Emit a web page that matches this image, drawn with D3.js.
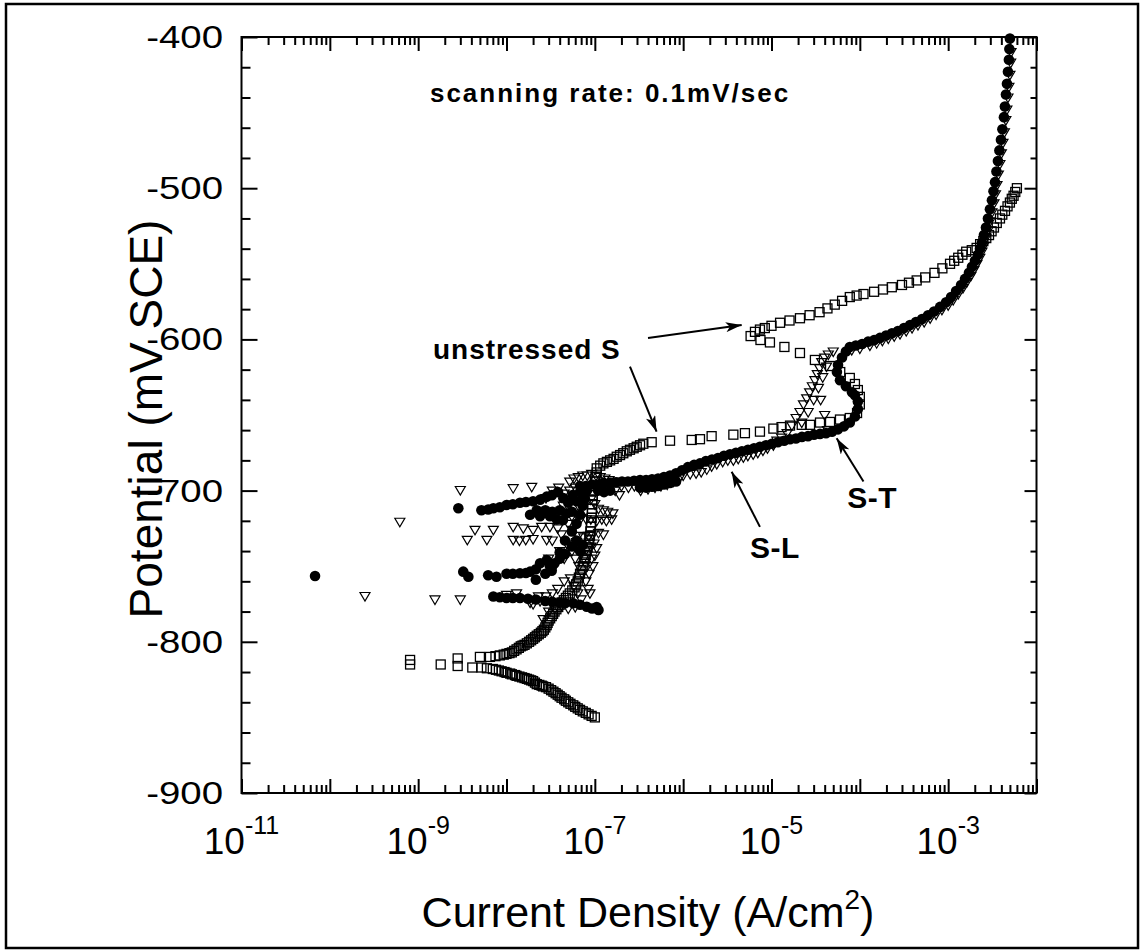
<!DOCTYPE html>
<html><head><meta charset="utf-8">
<script src="https://cdn.jsdelivr.net/npm/d3@7"></script>
<style>
body{margin:0;background:#fff;}
text{font-family:"Liberation Sans", Arial, Helvetica, sans-serif;fill:#000;}
</style>
</head><body>
<svg id="c" width="1143" height="951"></svg>
<script>
// ---------- DATA: [current density (A/cm2), potential (mV SCE)] ----------
const unstressedS = [
[1.0e-7,-850],[9.2e-8,-849],[8.5e-8,-848],[7.9e-8,-847],[7.3e-8,-846],[6.8e-8,-845],[6.4e-8,-844],[6.0e-8,-843],[5.7e-8,-842],[5.3e-8,-841],[5.0e-8,-840],[4.7e-8,-839],[4.5e-8,-838],[4.2e-8,-837],[4.0e-8,-836],[3.8e-8,-835],[3.6e-8,-834],[3.4e-8,-833],[3.2e-8,-832],[3.0e-8,-831],[2.8e-8,-830],[2.6e-8,-829.5],[2.5e-8,-829],[2.35e-8,-828.5],[2.2e-8,-828],[2.1e-8,-827],[2.0e-8,-826],[1.9e-8,-825.5],[1.8e-8,-825],[1.7e-8,-824.5],[1.6e-8,-824],[1.5e-8,-823.5],[1.4e-8,-823],[1.3e-8,-822.5],[1.25e-8,-822],[1.15e-8,-821.5],[1.1e-8,-821],[1.0e-8,-820.5],[9.5e-9,-820],[8.8e-9,-819.5],[8.2e-9,-819],[7.6e-9,-818.5],[7.0e-9,-818],[6.0e-9,-817.5],[5.2e-9,-817],[4.1e-9,-817],[2.8e-9,-816],[1.8e-9,-815],[8.1e-10,-815],[8.1e-10,-812],[2.8e-9,-811],[5.0e-9,-810],
[6.5e-9,-810],[7.5e-9,-809.5],[8.4e-9,-809],[9.3e-9,-808.5],[1.0e-8,-808],[1.08e-8,-807.5],[1.15e-8,-807],[1.22e-8,-806],[1.3e-8,-805],[1.38e-8,-804],[1.45e-8,-803],[1.52e-8,-802.5],[1.6e-8,-802],[1.7e-8,-801],[1.8e-8,-800],[1.9e-8,-799],[2.0e-8,-798],[2.1e-8,-797],[2.2e-8,-796],[2.32e-8,-795],[2.45e-8,-794],[2.55e-8,-793],[2.65e-8,-792],[2.75e-8,-790.5],[2.85e-8,-789],[2.92e-8,-787.5],[3.0e-8,-786],[3.12e-8,-784.5],[3.25e-8,-783],[3.37e-8,-781.5],[3.5e-8,-780],[3.67e-8,-778.5],[3.85e-8,-777],[4.0e-8,-775.5],[4.2e-8,-774],[4.45e-8,-772.5],[4.7e-8,-771],[4.95e-8,-769.5],[5.2e-8,-768],[5.55e-8,-766],[5.9e-8,-764],[6.15e-8,-762],[6.4e-8,-760],[6.6e-8,-757.5],[6.8e-8,-755],[7.05e-8,-752.5],[7.3e-8,-750],[7.5e-8,-747.5],[7.7e-8,-745],[7.9e-8,-742.5],[8.1e-8,-740],[8.3e-8,-737.5],[8.5e-8,-735],[8.65e-8,-732.5],[8.8e-8,-730],[8.9e-8,-727],[9.0e-8,-724],[9.1e-8,-721],[9.2e-8,-718],[9.25e-8,-715],[9.3e-8,-712],[9.35e-8,-709],[9.4e-8,-706],[9.5e-8,-703],[9.6e-8,-700],[9.8e-8,-697],[1.0e-7,-694],[1.02e-7,-691],[1.05e-7,-688],[1.05e-7,-685.3],[1.15e-7,-683.5],[1.25e-7,-682],[1.37e-7,-681],[1.49e-7,-680],[1.63e-7,-679],[1.77e-7,-677.6],[1.93e-7,-676.5],[2.1e-7,-675.3],[2.3e-7,-674],[2.5e-7,-673],[2.75e-7,-672],[2.98e-7,-671],[3.25e-7,-670],[3.54e-7,-669],[4.4e-7,-668],[7.1e-7,-667],[1.25e-6,-666.5],[1.55e-6,-666],[2.1e-6,-664],[3.7e-6,-663],[5.0e-6,-662],[7.4e-6,-661],[1.05e-5,-659],[1.3e-5,-658],[1.62e-5,-657],[2.2e-5,-656.5],[2.73e-5,-656.5],[3.54e-5,-655],[4.6e-5,-654.6],[5.96e-5,-653],[7.7e-5,-652],[9.3e-5,-648.7],[1.0e-4,-643],[1.0e-4,-638],[9.5e-5,-633.5],[8.8e-5,-629.5],[7.7e-5,-625.5],[6.0e-5,-621.6],[4.6e-5,-617.6],[3.1e-5,-613.6],[2.1e-5,-609],[1.4e-5,-605],[9.6e-6,-602],[7.5e-6,-600.4],[5.8e-6,-597.8],[6.5e-6,-595],[7.4e-6,-593.5],[8.4e-6,-592.5],[1.0e-5,-591],[1.25e-5,-589],[1.6e-5,-587.5],[2.1e-5,-586],[2.7e-5,-584],[3.5e-5,-582],[4.3e-5,-579.5],[5.2e-5,-577],[6.3e-5,-574.5],[7.7e-5,-572],[9.2e-5,-571],[1.1e-4,-570],[1.45e-4,-568.5],[1.83e-4,-567],[2.3e-4,-565.5],[3.0e-4,-564],[3.6e-4,-562.5],[4.4e-4,-561],[5.5e-4,-559],[7.0e-4,-556],[8.6e-4,-553],[1.05e-3,-550],[1.17e-3,-548],[1.3e-3,-546],[1.45e-3,-544],[1.6e-3,-542],[1.85e-3,-541],[2.1e-3,-539.5],[2.3e-3,-537],[2.5e-3,-535],[2.7e-3,-533],[2.9e-3,-531],[3.1e-3,-528.5],[3.3e-3,-526],[3.55e-3,-523],[3.86e-3,-520],[4.1e-3,-517.5],[4.4e-3,-515],[4.7e-3,-512],[5.0e-3,-509.5],[5.25e-3,-507],[5.5e-3,-505],[5.75e-3,-502.5],[6.0e-3,-500]
];

const stressedST = [
[6.8e-11,-756.5],[2.85e-9,-711.7],[3.24e-9,-753.6],[3.7e-9,-757],
[5.2e-9,-713],[6.2e-9,-712.5],[7.1e-9,-711.7],[8.4e-9,-711],[1.0e-8,-709.5],[1.18e-8,-709],[1.42e-8,-708],[1.66e-8,-707.5],[2.0e-8,-707],[2.4e-8,-706],[2.85e-8,-704],[3.27e-8,-703],[3.83e-8,-701],
[1.85e-8,-716],[2.2e-8,-713],[2.4e-8,-717],[2.75e-8,-713],[3.1e-8,-717],[3.3e-8,-714],[3.7e-8,-719],[4.0e-8,-713],[4.36e-8,-719.5],[4.8e-8,-715],[5.5e-8,-714],
[4.4e-8,-705],[5.0e-8,-708],[5.6e-8,-703],[6.2e-8,-707],[6.8e-8,-701],[7.4e-8,-704],
[6.2e-9,-756],[7.7e-9,-757],[1.0e-8,-755],[1.18e-8,-755],[1.42e-8,-754.7],[1.66e-8,-754.5],[1.85e-8,-753.6],[2.15e-8,-752],[2.15e-8,-759],[2.4e-8,-748],[2.75e-8,-755],[2.85e-8,-746],[3.1e-8,-750],[3.25e-8,-753],[3.5e-8,-748],[4.0e-8,-745],[4.6e-8,-742],[4.0e-8,-741],[4.6e-8,-733],[5.5e-8,-727],[6.2e-8,-722],[5.5e-8,-737],[6.2e-8,-733],[6.8e-8,-740],[7.3e-8,-736],[6.8e-8,-716],[7.3e-8,-710],[7.7e-8,-705],[8.1e-8,-700],
[7.1e-9,-770],[8.4e-9,-770.5],[1.0e-8,-771],[1.18e-8,-771],[1.42e-8,-771],[1.75e-8,-771.5],[2.15e-8,-772],[2.75e-8,-773],[3.3e-8,-773.5],[4.0e-8,-774],[4.6e-8,-774.5],[5.7e-8,-774.5],[6.8e-8,-775.5],[8.1e-8,-776.8],[9.3e-8,-778],[1.1e-7,-779],[1.05e-7,-777],
[6.8e-8,-697],[7.9e-8,-697],[9.3e-8,-696],[1.09e-7,-696],[1.27e-7,-695],[1.49e-7,-695],[1.74e-7,-694.5],[2.03e-7,-694],[2.37e-7,-694],[2.78e-7,-693.5],[3.25e-7,-693],[3.8e-7,-693],[4.44e-7,-692.5],[5.2e-7,-692],[6.07e-7,-691],[7.1e-7,-690],[8.3e-7,-688.5],[9.7e-7,-686.5],[1.13e-6,-684.5],[1.33e-6,-683],[1.55e-6,-682],[1.81e-6,-680.5],[2.12e-6,-679.5],[2.48e-6,-678.5],[2.9e-6,-677],[3.39e-6,-676],[3.96e-6,-675],[4.63e-6,-674],[5.42e-6,-673],[6.34e-6,-672],[7.4e-6,-671],[8.66e-6,-670],[1.01e-5,-669],[1.18e-5,-668],[1.39e-5,-667],[1.62e-5,-666],[1.89e-5,-665.5],[2.21e-5,-664.5],[2.59e-5,-664],[3.03e-5,-663],[3.54e-5,-662.5],[4.14e-5,-662],[4.84e-5,-661],[5.66e-5,-659.5],[6.62e-5,-657.5],[7.7e-5,-655],[8.8e-5,-651],[9.5e-5,-646],[9.5e-5,-641],[8.8e-5,-637],[8.15e-5,-635],[6.96e-5,-631],[5.96e-5,-627],[5.5e-5,-621.6],[5.66e-5,-617],[6.28e-5,-612],[6.96e-5,-608],
[1.09e-7,-700],[1.27e-7,-701],[1.49e-7,-700],[3.25e-7,-698],[3.8e-7,-698],[4.44e-7,-697.5],[5.2e-7,-697],[6.07e-7,-696],[7.1e-7,-695],[8.3e-7,-694],
[7.7e-5,-605],[9.0e-5,-604],[1.06e-4,-603],[1.24e-4,-601.5],[1.45e-4,-600.5],[1.69e-4,-599],[1.98e-4,-597.5],[2.31e-4,-596],[2.7e-4,-594.5],[3.16e-4,-592.5],[3.7e-4,-590.5],[4.32e-4,-588.5],[5.06e-4,-586.5],[5.92e-4,-584],[6.92e-4,-581.5],[8.1e-4,-578.5],[9.47e-4,-575.5],[1.08e-3,-572],[1.23e-3,-568],[1.4e-3,-564],[1.55e-3,-560],[1.72e-3,-556],[1.86e-3,-552],[2.01e-3,-548],[2.17e-3,-544],[2.29e-3,-540],[2.41e-3,-536],[2.54e-3,-531],[2.68e-3,-526],[2.82e-3,-520],[2.97e-3,-514],[3.13e-3,-508],[3.26e-3,-502],[3.39e-3,-496],[3.52e-3,-489],[3.66e-3,-482],[3.8e-3,-475],[3.96e-3,-468],[4.11e-3,-461],[4.28e-3,-453],[4.39e-3,-446],[4.51e-3,-438],[4.63e-3,-431],[4.75e-3,-423],[4.87e-3,-415],[4.93e-3,-408],[5.0e-3,-401]
];

const stressedSL = [
[2.5e-10,-769.7],[6.2e-10,-720.6],[1.55e-9,-772],[3.0e-9,-772],[3.0e-9,-699.6],[1.19e-8,-698.4],[1.93e-8,-697.5],
[4.4e-9,-726],[7.1e-9,-726],[3.6e-9,-732.6],[6.0e-9,-732.6],[1.19e-8,-724],[1.55e-8,-725],[2.0e-8,-726],[1.19e-8,-732.6],[1.4e-8,-733],[1.65e-8,-732.6],[2.0e-8,-732],[2.5e-8,-724],[2.85e-8,-732.6],[3.1e-8,-724],[3.3e-8,-733],
[1.0e-8,-769],[1.3e-8,-768],[1.85e-8,-774],[2.3e-8,-770],
[2.8e-8,-705],[3.3e-8,-700],[3.9e-8,-698],[4.5e-8,-702],[5.2e-8,-700],[5.9e-8,-705],[6.5e-8,-710],[4.4e-8,-710],[3.8e-8,-725],[4.2e-8,-729],[4.8e-8,-735],[5.5e-8,-740],[6.0e-8,-745],[6.6e-8,-750],[7.2e-8,-755],[7.9e-8,-760],[8.4e-8,-765],[8.8e-8,-768],[5.3e-8,-758],[5.8e-8,-763],[6.4e-8,-768],[7.0e-8,-772],[4.5e-8,-760],[3.8e-8,-765],[3.3e-8,-768],[2.8e-8,-770],[2.4e-8,-773],[2.0e-8,-775],[6.0e-8,-777],[5.0e-8,-778],[4.2e-8,-776],[7.5e-8,-745],[8.2e-8,-750],[8.6e-8,-755],[9.2e-8,-745],[3.0e-8,-745],[3.5e-8,-750],[4.0e-8,-740],[4.5e-8,-745],[5.0e-8,-722],[5.6e-8,-726],[6.2e-8,-734],[7.0e-8,-742],[9.5e-8,-750],[1.0e-7,-743],[9.8e-8,-735],
[3.0e-8,-780],[3.5e-8,-778],[2.6e-8,-785],
[5.5e-8,-717],[6.2e-8,-716],[7.0e-8,-718],[8.0e-8,-719],[9.0e-8,-719],[1.05e-7,-720],[1.2e-7,-719],[1.35e-7,-720],[1.55e-7,-719],
[6.5e-8,-730],[7.5e-8,-731],[8.5e-8,-730],[9.5e-8,-729],[1.1e-7,-728],[1.25e-7,-729],
[7.0e-8,-738],[8.0e-8,-739],[9.0e-8,-737],[1.05e-7,-738],
[5.2e-8,-694],[5.8e-8,-692],[6.5e-8,-691],[7.3e-8,-690],[8.2e-8,-690],[9.2e-8,-689],[1.03e-7,-690],[1.15e-7,-691],[1.3e-7,-692],[1.45e-7,-693],[1.6e-7,-694],[6.0e-8,-698],[7.0e-8,-700],[8.0e-8,-703],[9.0e-8,-706],[1.0e-7,-709],[1.1e-7,-712],[1.25e-7,-713],[1.4e-7,-714],[1.6e-7,-715],
[2.0e-7,-697],[2.4e-7,-698],[2.8e-7,-697],[3.3e-7,-700],[4.0e-7,-699],[4.8e-7,-698],[5.6e-7,-697],[6.6e-7,-696],[7.8e-7,-694],[9.0e-7,-692],[1.7e-7,-700],[1.9e-7,-703],
[1.0e-6,-690],[1.2e-6,-689],[1.4e-6,-688.6],[1.6e-6,-687.7],[1.85e-6,-686],[2.1e-6,-684],[2.4e-6,-682.5],[2.8e-6,-681],[3.2e-6,-680],[3.7e-6,-680],[4.2e-6,-679],[4.8e-6,-678],[5.4e-6,-677],[6.2e-6,-676],[7.0e-6,-675],[8.0e-6,-673.5],[9.0e-6,-672],[1.05e-5,-670],[1.15e-5,-667],
[1.3e-5,-665],[1.5e-5,-662],[1.7e-5,-657],[1.9e-5,-652],[2.1e-5,-648],[2.3e-5,-643],[2.5e-5,-639],[2.7e-5,-635],[2.9e-5,-631],[3.1e-5,-627],[3.3e-5,-623],[3.5e-5,-619],[3.7e-5,-615],[4.0e-5,-612],[4.4e-5,-610],[5.0e-5,-608],[2.2e-5,-655],[2.6e-5,-648],[3.0e-5,-640],[3.4e-5,-632],[3.8e-5,-625],[4.2e-5,-618],[3.6e-5,-640],[4.0e-5,-650],[4.3e-5,-660],
[8.1e-5,-607],[1.0e-4,-606],[1.3e-4,-604],[1.55e-4,-602.5],[1.8e-4,-601],[2.1e-4,-599.5],[2.45e-4,-598],[2.85e-4,-596.5],[3.35e-4,-594.5],[3.9e-4,-592.5],[4.55e-4,-590.5],[5.35e-4,-588.5],[6.25e-4,-586],[7.3e-4,-583.5],[8.5e-4,-580.5],[1.0e-3,-577.5],[1.14e-3,-574],[1.3e-3,-570],[1.47e-3,-566],[1.63e-3,-562],[1.81e-3,-558],[1.96e-3,-554],[2.12e-3,-550],[2.28e-3,-546],[2.41e-3,-542],[2.54e-3,-538],[2.67e-3,-533],[2.82e-3,-528],[2.97e-3,-522],[3.13e-3,-516],[3.3e-3,-510],[3.43e-3,-504],[3.57e-3,-498],[3.7e-3,-491],[3.85e-3,-484],[4.0e-3,-477],[4.17e-3,-470],[4.33e-3,-463],[4.5e-3,-455],[4.62e-3,-448],[4.75e-3,-440],[4.87e-3,-433],[5.0e-3,-425],[5.1e-3,-417],[5.15e-3,-410]
];

// tick labels
const xLabelExponents = [-11, -9, -7, -5, -3];
const yTickValues = [-400, -500, -600, -700, -800, -900];

// annotations [current, potential]
const annotations = [
  {text: "scanning rate: 0.1mV/sec", at: [1.36e-9, -443], size: 26, ls: 2},
  {text: "unstressed S", at: [1.47e-9, -613], size: 28, ls: 1},
  {text: "S-L", at: [5.7e-6, -744.6], size: 30, ls: 0.5},
  {text: "S-T", at: [7.2e-5, -711.5], size: 30, ls: 0.5}
];
const arrows = [
  {from: [4.0e-7, -599], to: [4.6e-6, -590.5]},
  {from: [2.5e-7, -618], to: [5.0e-7, -661]},
  {from: [7.4e-6, -724], to: [3.54e-6, -687.5]},
  {from: [1.1e-4, -694], to: [5.46e-5, -665.4]}
];

// ---------- CHART ----------
const svg = d3.select("#c");
const L = 241.5, R = 1036.5, T = 37, B = 793;
const x = d3.scaleLog().domain([1e-11, 1e-2]).range([L, R]);
const y = d3.scaleLinear().domain([-900, -400]).range([B, T]);

svg.append("rect").attr("x", 6).attr("y", 4).attr("width", 1132).attr("height", 944)
  .attr("fill", "none").attr("stroke", "#000").attr("stroke-width", 2.5);

const decades = d3.range(-11, -1).map(e => Math.pow(10, e));
const minors = [];
d3.range(-11, -2).forEach(e => { for (let m = 2; m <= 9; m++) minors.push(m * Math.pow(10, e)); });
const yMinor = d3.range(-900, -399, 20).filter(v => v % 100 !== 0);

function styleAxis(g) {
  g.select(".domain").remove();
  g.selectAll(".tick line").attr("stroke", "#000").attr("stroke-width", 2);
  g.selectAll(".tick text").remove();
}
svg.append("g").attr("transform", `translate(0,${B})`).call(d3.axisBottom(x).tickValues(decades).tickSize(-14)).call(styleAxis);
svg.append("g").attr("transform", `translate(0,${B})`).call(d3.axisBottom(x).tickValues(minors).tickSize(-8)).call(styleAxis);
svg.append("g").attr("transform", `translate(0,${T})`).call(d3.axisTop(x).tickValues(decades).tickSize(-14)).call(styleAxis);
svg.append("g").attr("transform", `translate(0,${T})`).call(d3.axisTop(x).tickValues(minors).tickSize(-8)).call(styleAxis);
svg.append("g").attr("transform", `translate(${L},0)`).call(d3.axisLeft(y).tickValues(yTickValues).tickSize(-16)).call(styleAxis);
svg.append("g").attr("transform", `translate(${L},0)`).call(d3.axisLeft(y).tickValues(yMinor).tickSize(-9)).call(styleAxis);
svg.append("g").attr("transform", `translate(${R},0)`).call(d3.axisRight(y).tickValues(yTickValues).tickSize(-12)).call(styleAxis);
svg.append("g").attr("transform", `translate(${R},0)`).call(d3.axisRight(y).tickValues(yMinor).tickSize(-6)).call(styleAxis);

svg.append("rect").attr("x", L).attr("y", T).attr("width", R - L).attr("height", B - T)
  .attr("fill", "none").attr("stroke", "#000").attr("stroke-width", 2);

// y tick labels (slightly wide lettering, as in the reference)
svg.append("g").selectAll("text").data(yTickValues).join("text")
  .attr("transform", d => `translate(223,${y(d) + 11}) scale(1.2,1)`).attr("text-anchor", "end")
  .attr("font-size", 32).text(d => String(d));

// x tick labels
const xl = svg.append("g").selectAll("text").data(xLabelExponents).join("text")
  .attr("x", d => x(Math.pow(10, d))).attr("y", 854).attr("text-anchor", "middle").attr("font-size", 37);
xl.append("tspan").text("10");
xl.append("tspan").attr("dy", -20).attr("font-size", 25).text(d => String(d));

// axis titles
const xt = svg.append("text").attr("x", 648).attr("y", 927).attr("text-anchor", "middle").attr("font-size", 43);
xt.append("tspan").text("Current Density (A/cm");
xt.append("tspan").attr("dy", -18).attr("font-size", 28).text("2");
xt.append("tspan").attr("dy", 18).text(")");
svg.append("text").attr("transform", `translate(162,${(T + B) / 2 + 4}) rotate(-90)`)
  .attr("text-anchor", "middle").attr("font-size", 46).text("Potential (mV SCE)");

// markers
const plot = svg.append("g");
plot.selectAll("rect.sq").data(unstressedS).join("rect").attr("class", "sq")
  .attr("x", d => x(d[0]) - 4.5).attr("y", d => y(d[1]) - 4.5).attr("width", 9).attr("height", 9)
  .attr("fill", "none").attr("stroke", "#000").attr("stroke-width", 1.3);
plot.selectAll("path.tri").data(stressedSL).join("path").attr("class", "tri")
  .attr("transform", d => `translate(${x(d[0])},${y(d[1])})`)
  .attr("d", "M-5,-3.5L5,-3.5L0,5Z")
  .attr("fill", "none").attr("stroke", "#000").attr("stroke-width", 1.2);
plot.selectAll("circle.ci").data(stressedST).join("circle").attr("class", "ci")
  .attr("cx", d => x(d[0])).attr("cy", d => y(d[1])).attr("r", 5.3).attr("fill", "#000");

// annotations
svg.append("defs").append("marker").attr("id", "ah").attr("viewBox", "0 0 16 10")
  .attr("refX", 16).attr("refY", 5).attr("markerWidth", 16).attr("markerHeight", 10)
  .attr("markerUnits", "userSpaceOnUse").attr("orient", "auto")
  .append("path").attr("d", "M0,0L16,5L0,10L4,5Z").attr("fill", "#000");
svg.append("g").selectAll("line").data(arrows).join("line")
  .attr("x1", d => x(d.from[0])).attr("y1", d => y(d.from[1]))
  .attr("x2", d => x(d.to[0])).attr("y2", d => y(d.to[1]))
  .attr("stroke", "#000").attr("stroke-width", 2).attr("marker-end", "url(#ah)");
svg.append("g").selectAll("text").data(annotations).join("text")
  .attr("x", d => x(d.at[0])).attr("y", d => y(d.at[1]))
  .attr("font-size", d => d.size).attr("font-weight", "bold")
  .attr("letter-spacing", d => d.ls).text(d => d.text);
</script>
</body></html>
